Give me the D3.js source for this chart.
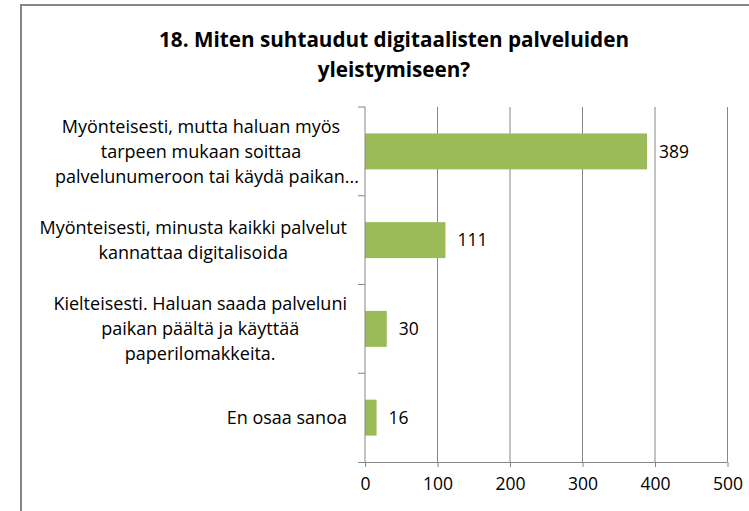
<!DOCTYPE html>
<html>
<head>
<meta charset="utf-8">
<script src="https://cdn.jsdelivr.net/npm/d3@7"></script>
<style>
  body { margin: 0; background: #fff; }
  text { font-family: "Open Sans", Lato, sans-serif; fill: #000; }
</style>
</head>
<body>
<div id="chart"></div>
<script>
const categories = [
    "Myönteisesti, mutta haluan myös|tarpeen mukaan soittaa|palvelunumeroon tai käydä paikan...",
    "Myönteisesti, minusta kaikki palvelut|kannattaa digitalisoida",
    "Kielteisesti. Haluan saada palveluni|paikan päältä ja käyttää|paperilomakkeita.",
    "En osaa sanoa"
];
const values = [389, 111, 30, 16];
const xTicks = [0, 100, 200, 300, 400, 500];
const titleLines = ["18. Miten suhtaudut digitaalisten palveluiden", "yleistymiseen?"];

const svg = d3.select("#chart").append("svg")
    .attr("width", 749)
    .attr("height", 511);

// chart frame (runs off the right and bottom edges)
svg.append("rect")
    .attr("x", 21).attr("y", 5)
    .attr("width", 760).attr("height", 540)
    .attr("fill", "#fff")
    .attr("stroke", "#868686")
    .attr("stroke-width", 2);

const margin = { top: 107, left: 365, right: 21.5, bottom: 49 },
    width = 749 - margin.left - margin.right,
    height = 511 - margin.top - margin.bottom;

const x = d3.scaleLinear().domain([0, 500]).range([margin.left, margin.left + width]);
const y = d3.scaleBand().domain(categories).range([margin.top, margin.top + height]).paddingInner(0.595).paddingOuter(0.2975);
const yBands = d3.scaleBand().domain(categories).range([margin.top, margin.top + height]);

// gridlines
svg.append("g")
    .selectAll("line")
    .data(xTicks.slice(1))
    .join("line")
    .attr("x1", d => x(d)).attr("x2", d => x(d))
    .attr("y1", margin.top).attr("y2", margin.top + height)
    .attr("stroke", "#868686");

// bars
svg.append("g")
    .selectAll("rect")
    .data(values)
    .join("rect")
    .attr("x", x(0))
    .attr("y", (d, i) => y(categories[i]))
    .attr("width", d => x(d) - x(0))
    .attr("height", y.bandwidth())
    .attr("fill", "#9bbb59");

// value labels
svg.append("g")
    .selectAll("text")
    .data(values)
    .join("text")
    .attr("x", d => x(d) + 12)
    .attr("y", (d, i) => y(categories[i]) + y.bandwidth() / 2)
    .attr("dy", "0.35em")
    .style("font-size", "17.5px")
    .text(d => d);

// x axis
const xAxis = svg.append("g")
    .attr("transform", `translate(0,${margin.top + height})`)
    .call(d3.axisBottom(x).tickValues(xTicks).tickSize(5).tickPadding(11).tickSizeOuter(0));
xAxis.select(".domain").attr("d", `M${x(0) - 7},0.5H${x(500)}`);
xAxis.selectAll("line").attr("stroke", "#868686");
xAxis.select(".domain").attr("stroke", "#868686");
xAxis.selectAll("text").style("font-size", "17.5px").style("font-family", "'Open Sans', sans-serif");

// y axis (ticks at band edges)
const yAxis = svg.append("g").attr("transform", `translate(${x(0)},0)`);
yAxis.append("line")
    .attr("y1", margin.top).attr("y2", margin.top + height)
    .attr("stroke", "#868686");
yAxis.selectAll(".edge")
    .data(categories)
    .join("line")
    .attr("class", "edge")
    .attr("x1", -7).attr("x2", 0)
    .attr("y1", d => yBands(d)).attr("y2", d => yBands(d))
    .attr("stroke", "#868686");

// category labels: block right edge at 347, lines centred inside the block,
// truncated ("...") lines start at the left of the wrap box
const labelRight = 347, wrapWidth = 292, lineH = 25;
categories.forEach(c => {
    const lines = c.split("|");
    const cy = yBands(c) + yBands.bandwidth() / 2;
    const g = svg.append("g");
    const texts = lines.map((l, i) => g.append("text")
        .attr("y", cy + (i - (lines.length - 1) / 2) * lineH)
        .attr("dy", "0.35em")
        .style("font-size", "18px")
        .text(l));
    const widths = texts.map(t => t.node().getComputedTextLength());
    const cut = lines.map(l => l.endsWith("..."));
    let block = d3.max(widths.filter((w, i) => !cut[i]));
    if (cut.some(Boolean)) block = Math.max(block, wrapWidth);
    texts.forEach((t, i) => {
        if (cut[i]) {
            t.attr("x", labelRight - wrapWidth);
        } else {
            t.attr("x", labelRight - block / 2).attr("text-anchor", "middle");
        }
    });
});

// title
svg.append("g")
    .selectAll("text")
    .data(titleLines)
    .join("text")
    .attr("x", 394)
    .attr("y", (d, i) => 40 + i * 30)
    .attr("dy", "0.35em")
    .attr("text-anchor", "middle")
    .style("font-size", "20.7px")
    .style("font-weight", "bold")
    .text(d => d);
</script>
</body>
</html>
